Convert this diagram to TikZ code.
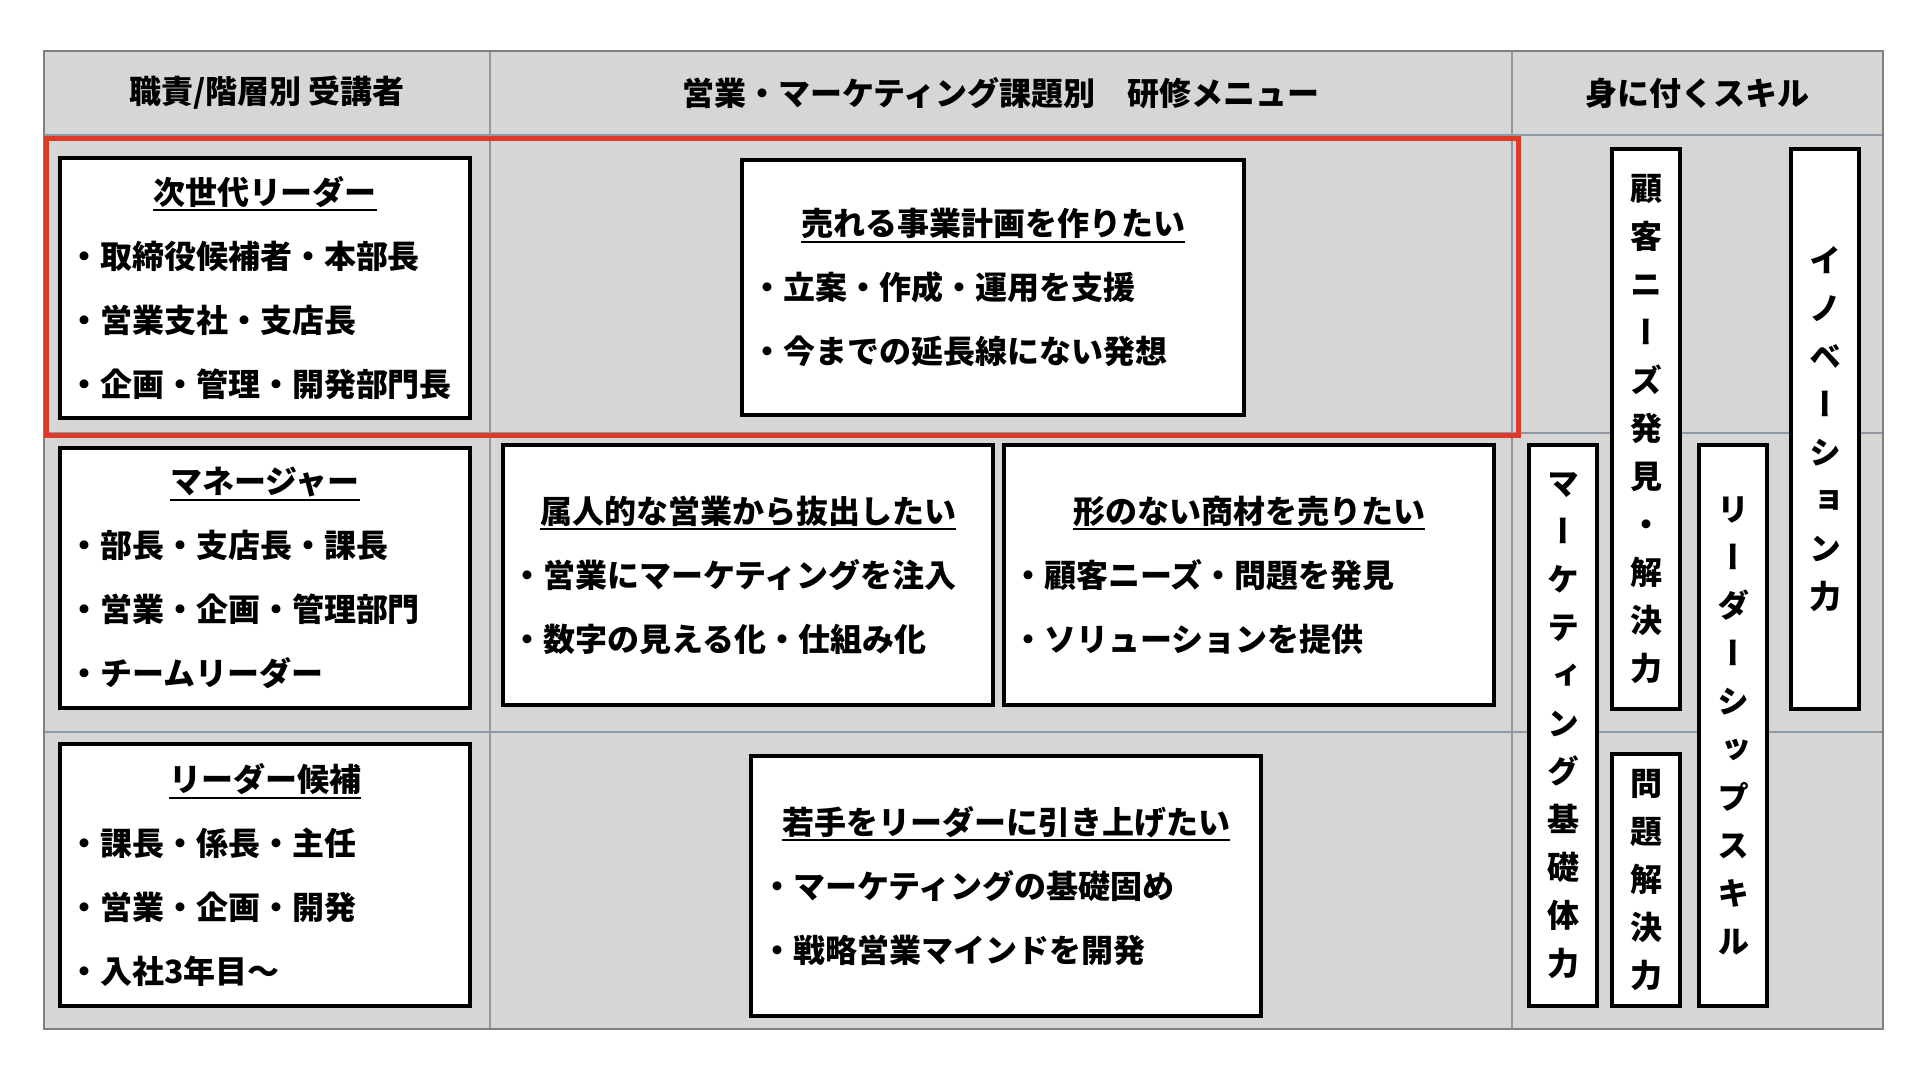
\documentclass[tikz,border=0pt]{standalone}
\usepackage{fontspec}
\usepackage{graphicx}
\setmainfont{Noto Sans CJK JP}
\newfontfamily\vertjp{Noto Sans CJK JP}[RawFeature=+vert]
\definecolor{tablegray}{HTML}{D6D6D6}
\definecolor{gridline}{HTML}{8E99A4}
\definecolor{framered}{HTML}{DD3B27}
% underlined title line, centred in the card
\newcommand{\ttl}[1]{\makebox[\linewidth][c]{\setbox0\hbox{#1}\rlap{\rule[-7pt]{\wd0}{2pt}}\box0}}

\begin{document}
\begin{tikzpicture}[x=1pt,y=-1pt]
  \tikzstyle{grid}=[draw=gridline,line width=1.5pt]
  \tikzstyle{card}=[rectangle,draw=black,line width=4pt,fill=white,anchor=north west,
                    inner sep=0pt,align=left,font=\bfseries\fontsize{32}{64}\selectfont]
  \tikzstyle{vcard}=[rectangle,draw=black,line width=4pt,fill=white,anchor=north west,
                     inner sep=0pt,align=center,minimum width=68,
                     font=\vertjp\bfseries\fontsize{32}{48}\selectfont]
  \tikzstyle{head}=[font=\bfseries\fontsize{32}{36}\selectfont]

  \useasboundingbox[fill=white] (0,0) rectangle (1920,1080);

  % table
  \fill[tablegray] (44,51) rectangle (1883,1029);
  \draw[grid] (44,135) -- (1883,135);
  \draw[grid] (44,433) -- (1883,433);
  \draw[grid] (44,732) -- (1883,732);
  \draw[grid] (490,51) -- (490,1029);
  \draw[grid] (1512,51) -- (1512,1029);
  \draw[grid,draw=gray] (44,51) rectangle (1883,1029);

  \node[head] (h1) at (267,93) {職責/階層別 受講者};
  \node[head] (h2) at (1001,93) {営業・マーケティング課題別　研修メニュー};
  \node[head] (h3) at (1697,93) {身に付くスキル};

  \draw[framered,line width=5pt] (46,138) rectangle (1518,435);

  % trainees
  \node[card,minimum width=410,minimum height=260,text width=394] (nextgen) at (58,156)
    {\ttl{次世代リーダー}\\・取締役候補者・本部長\\・営業支社・支店長\\・企画・管理・開発部門長};
  \node[card,minimum width=410,minimum height=260,text width=394] (manager) at (58,446)
    {\ttl{マネージャー}\\・部長・支店長・課長\\・営業・企画・管理部門\\・チームリーダー};
  \node[card,minimum width=410,minimum height=262,text width=394] (candidate) at (58,742)
    {\ttl{リーダー候補}\\・課長・係長・主任\\・営業・企画・開発\\・入社3年目〜};

  % menu
  \node[card,minimum width=502,minimum height=255,text width=484] (plan) at (740,158)
    {\ttl{売れる事業計画を作りたい}\\・立案・作成・運用を支援\\・今までの延長線にない発想};
  \node[card,minimum width=490,minimum height=260,text width=474] (escape) at (501,443)
    {\ttl{属人的な営業から抜出したい}\\・営業にマーケティングを注入\\・数字の見える化・仕組み化};
  \node[card,minimum width=490,minimum height=260,text width=474] (intangible) at (1002,443)
    {\ttl{形のない商材を売りたい}\\・顧客ニーズ・問題を発見\\・ソリューションを提供};
  \node[card,minimum width=510,minimum height=260,text width=490] (young) at (749,754)
    {\ttl{若手をリーダーに引き上げたい}\\・マーケティングの基礎固め\\・戦略営業マインドを開発};

  % skills
  \node[vcard,minimum height=560] (needs) at (1610,147)
    {顧\\客\\ニ\\ー\\ズ\\発\\見\\・\\解\\決\\力};
  \node[vcard,minimum height=560] (innov) at (1789,147)
    {イ\\ノ\\ベ\\ー\\シ\\ョ\\ン\\力};
  \node[vcard,minimum height=561] (mktg) at (1527,443)
    {マ\\ー\\ケ\\テ\\ィ\\ン\\グ\\基\\礎\\体\\力};
  \node[vcard,minimum height=561] (leader) at (1697,443)
    {リ\\ー\\ダ\\ー\\シ\\ッ\\プ\\ス\\キ\\ル};
  \node[vcard,minimum height=252] (problem) at (1610,752)
    {問\\題\\解\\決\\力};
\end{tikzpicture}
\end{document}
